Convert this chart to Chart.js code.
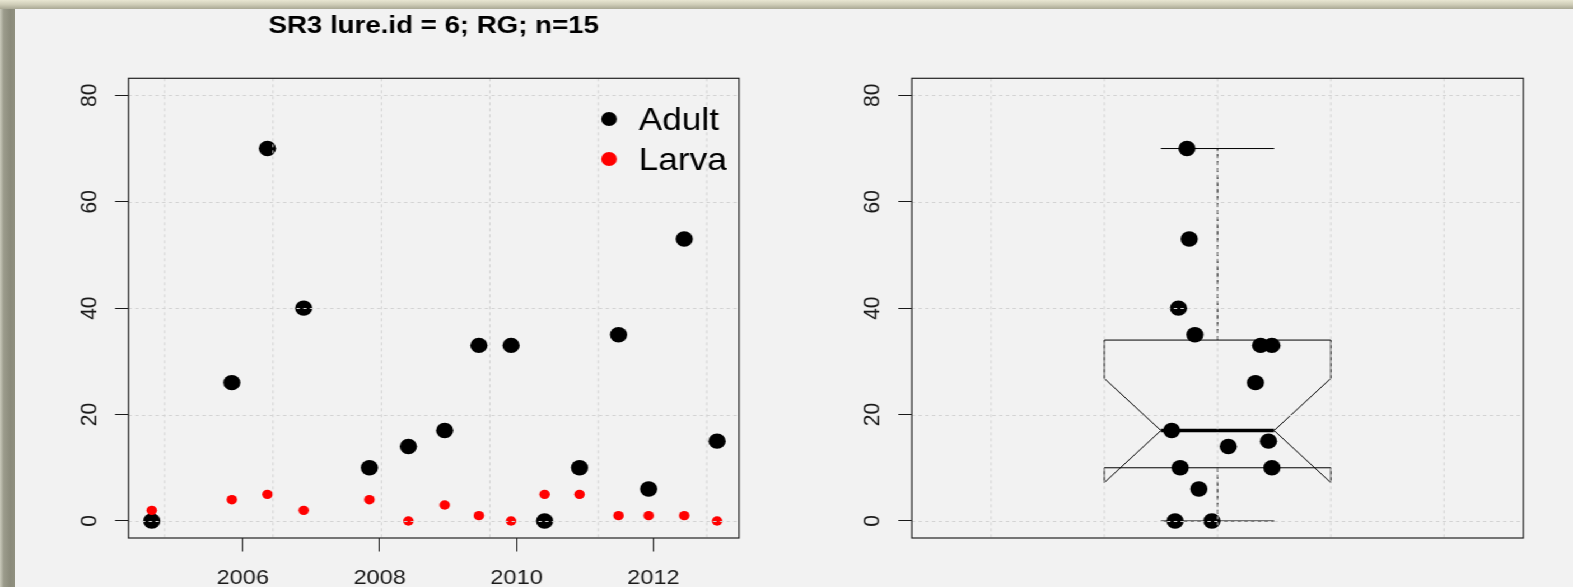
<!DOCTYPE html>
<html>
<head>
<meta charset="utf-8">
<script src="https://cdn.jsdelivr.net/npm/chart.js@4.4.1/dist/chart.umd.min.js"></script>
<style>
html, body { margin: 0; padding: 0; }
body { width: 1573px; height: 587px; overflow: hidden; background: #f2f2f2; position: relative; }
#frameTop { position: absolute; left: 0; top: 0; width: 1573px; height: 9px; z-index: 3;
  background: linear-gradient(#e8e6d2, #cfcdb8 50%, #a9a894); }
#frameLeft { position: absolute; left: 0; top: 0; width: 15px; height: 587px; z-index: 2;
  background: linear-gradient(90deg, #cacabb, #9b9b8b 25%, #8b8b7b 70%, #90907f); }
#stage { position: absolute; left: 0; top: 0; width: 1405px; height: 587px;
  transform: scaleX(1.12); transform-origin: 0 0; }
#stage canvas { position: absolute; top: 0; }
</style>
</head>
<body>
<div id="frameTop"></div>
<div id="frameLeft"></div>
<div id="stage">
  <canvas id="scatter" width="700" height="587" style="left:0;width:700px;height:587px"></canvas>
  <canvas id="boxplot" width="704" height="587" style="left:700px;width:704px;height:587px"></canvas>
</div>
<script>
// DATA
const sampleYears = [2004.67, 2005.84, 2006.36, 2006.89, 2007.85, 2008.42, 2008.95, 2009.45,
                     2009.92, 2010.41, 2010.92, 2011.49, 2011.93, 2012.45, 2012.93];
const adultCounts = [0, 26, 70, 40, 10, 14, 17, 33, 33, 0, 10, 35, 6, 53, 15];
const larvaCounts = [2, 4, 5, 2, 4, 0, 3, 1, 0, 5, 5, 1, 1, 1, 0];
// horizontal jitter of the stripchart points on the box panel
const jitterX = [0.925, 1.067, 0.946, 0.931, 0.934, 1.019, 0.919, 1.076,
                 1.096, 0.990, 1.096, 0.960, 0.967, 0.950, 1.090];
const yTicks = [0, 20, 40, 60, 80];
const xTickYears = [2006, 2008, 2010, 2012];
// grid() used the POSIXct axis ticks (seconds since 1970)
const xGridSeconds = [1.10e9, 1.15e9, 1.20e9, 1.25e9, 1.30e9, 1.35e9];
const boxGridX = [0.6, 0.8, 1.0, 1.2, 1.4];
const titleText = "SR3 lure.id = 6; RG; n=15";

const FONT = '"Liberation Sans", Arial, sans-serif';
const INK = "#1a1a1a";
const secToYear = (s) => 1970 + s / 31557600;

// R-style fivenum + notch
function boxStats(vals) {
    const v = [...vals].sort((a, b) => a - b);
    const n = v.length;
    const n4 = Math.floor((n + 3) / 2) / 2;
    const d = [1, n4, (n + 1) / 2, n + 1 - n4, n];
    const f = d.map((k) => 0.5 * (v[Math.floor(k) - 1] + v[Math.ceil(k) - 1]));
    const iqr = f[3] - f[1];
    const hi = Math.max(...v.filter((x) => x <= f[3] + 1.5 * iqr));
    const lo = Math.min(...v.filter((x) => x >= f[1] - 1.5 * iqr));
    const nd = 1.58 * iqr / Math.sqrt(n);
    return { lo, q1: f[1], med: f[2], q3: f[3], hi, nlo: f[2] - nd, nhi: f[2] + nd };
}

function seg(ctx, x1, y1, x2, y2) {
    ctx.beginPath();
    ctx.moveTo(x1, y1);
    ctx.lineTo(x2, y2);
    ctx.stroke();
}

const rPanel = {
    id: "rPanel",
    beforeDatasetsDraw(chart, args, o) {
        if (!o.box) return;
        const { ctx, scales: { x, y } } = chart;
        const s = boxStats(adultCounts);
        const X = (v) => x.getPixelForValue(v);
        const Y = (v) => y.getPixelForValue(v);
        ctx.save();
        ctx.strokeStyle = "#000";
        ctx.lineWidth = 1;
        // whiskers
        ctx.setLineDash([4, 3]);
        seg(ctx, X(1), Y(s.q3), X(1), Y(s.hi));
        seg(ctx, X(1), Y(s.q1), X(1), Y(s.lo));
        ctx.setLineDash([]);
        seg(ctx, X(0.9), Y(s.hi), X(1.1), Y(s.hi));
        seg(ctx, X(0.9), Y(s.lo), X(1.1), Y(s.lo));
        // notched box
        ctx.beginPath();
        ctx.moveTo(X(0.8), Y(s.q1));
        ctx.lineTo(X(0.8), Y(s.nlo));
        ctx.lineTo(X(0.9), Y(s.med));
        ctx.lineTo(X(0.8), Y(s.nhi));
        ctx.lineTo(X(0.8), Y(s.q3));
        ctx.lineTo(X(1.2), Y(s.q3));
        ctx.lineTo(X(1.2), Y(s.nhi));
        ctx.lineTo(X(1.1), Y(s.med));
        ctx.lineTo(X(1.2), Y(s.nlo));
        ctx.lineTo(X(1.2), Y(s.q1));
        ctx.closePath();
        ctx.stroke();
        ctx.lineWidth = 3.5;
        seg(ctx, X(0.9), Y(s.med), X(1.1), Y(s.med));
        ctx.restore();
    },
    afterDatasetsDraw(chart, args, o) {
        const { ctx, chartArea: a, scales: { x, y } } = chart;
        ctx.save();
        // dotted grid over everything
        ctx.strokeStyle = "#d3d3d3";
        ctx.lineWidth = 1;
        ctx.setLineDash([3, 3]);
        o.gridX.forEach((v) => {
            const px = x.getPixelForValue(v);
            seg(ctx, px, a.top, px, a.bottom);
        });
        yTicks.forEach((v) => {
            const py = Math.round(y.getPixelForValue(v)) + 0.5;
            seg(ctx, a.left, py, a.right, py);
        });
        ctx.setLineDash([]);
        // frame
        ctx.strokeStyle = "#222";
        ctx.lineWidth = 1.2;
        ctx.strokeRect(a.left, a.top, a.width, a.height);
        // rotated y labels
        ctx.fillStyle = INK;
        ctx.font = "21px " + FONT;
        ctx.textAlign = "center";
        ctx.textBaseline = "alphabetic";
        yTicks.forEach((v) => {
            ctx.save();
            ctx.translate(a.left - 29, y.getPixelForValue(v));
            ctx.rotate(-Math.PI / 2);
            ctx.fillText(String(v), 0, 0);
            ctx.restore();
        });
        if (o.title) {
            ctx.font = "bold 24.7px " + FONT;
            ctx.fillStyle = "#000";
            ctx.fillText(o.title, (a.left + a.right) / 2, 33.3);
        }
        if (o.legend) {
            ctx.font = "31.5px " + FONT;
            ctx.textAlign = "left";
            chart.data.datasets.forEach((ds, i) => {
                const cy = a.top + 40.7 + i * 40;
                ctx.fillStyle = ds.backgroundColor;
                ctx.beginPath();
                ctx.arc(a.right - 116, cy, 7, 0, Math.PI * 2);
                ctx.fill();
                ctx.fillStyle = "#000";
                ctx.fillText(ds.label, a.right - 89.5, cy + 11);
            });
        }
        ctx.restore();
    },
};

const yScale = {
    type: "linear",
    min: -3.2,
    max: 83.2,
    afterBuildTicks: (s) => { s.ticks = yTicks.map((v) => ({ value: v })); },
    afterFit: (s) => { s.width = 12; },
    ticks: { display: false },
    grid: { drawOnChartArea: false, drawTicks: true, tickLength: 12, color: INK, lineWidth: 1 },
    border: { display: false },
};

new Chart(document.getElementById("scatter"), {
    type: "scatter",
    data: {
        datasets: [
            {
                label: "Adult",
                data: sampleYears.map((t, i) => ({ x: t, y: adultCounts[i] })),
                backgroundColor: "#000000",
                borderWidth: 0,
                pointRadius: 7.7,
                order: 2,
            },
            {
                label: "Larva",
                data: sampleYears.map((t, i) => ({ x: t, y: larvaCounts[i] })),
                backgroundColor: "#ff0000",
                borderWidth: 0,
                pointRadius: 4.7,
                order: 1,
            },
        ],
    },
    options: {
        responsive: false,
        animation: false,
        events: [],
        layout: { padding: { left: 102.73, right: 40.18, top: 78.3, bottom: 0 } },
        scales: {
            x: {
                type: "linear",
                min: 2004.33,
                max: 2013.25,
                afterBuildTicks: (s) => { s.ticks = xTickYears.map((v) => ({ value: v })); },
                afterFit: (s) => { s.height = 49; },
                ticks: {
                    font: { size: 21, family: FONT },
                    color: INK,
                    padding: 14,
                    maxRotation: 0,
                    autoSkip: false,
                    callback: (v) => String(v),
                },
                grid: { drawOnChartArea: false, drawTicks: true, tickLength: 13.5, color: INK, lineWidth: 1 },
                border: { display: false },
            },
            y: yScale,
        },
        plugins: {
            legend: { display: false },
            tooltip: { enabled: false },
            rPanel: { gridX: xGridSeconds.map(secToYear), title: titleText, legend: true },
        },
    },
    plugins: [rPanel],
});

new Chart(document.getElementById("boxplot"), {
    type: "scatter",
    data: {
        datasets: [
            {
                label: "Adult",
                data: jitterX.map((j, i) => ({ x: j, y: adultCounts[i] })),
                backgroundColor: "#000000",
                borderWidth: 0,
                pointRadius: 7.7,
            },
        ],
    },
    options: {
        responsive: false,
        animation: false,
        events: [],
        layout: { padding: { left: 102.1, right: 43.9, top: 78.3, bottom: 49 } },
        scales: {
            x: { type: "linear", min: 0.46, max: 1.54, display: false },
            y: yScale,
        },
        plugins: {
            legend: { display: false },
            tooltip: { enabled: false },
            rPanel: { gridX: boxGridX, box: true },
        },
    },
    plugins: [rPanel],
});
</script>
</body>
</html>
